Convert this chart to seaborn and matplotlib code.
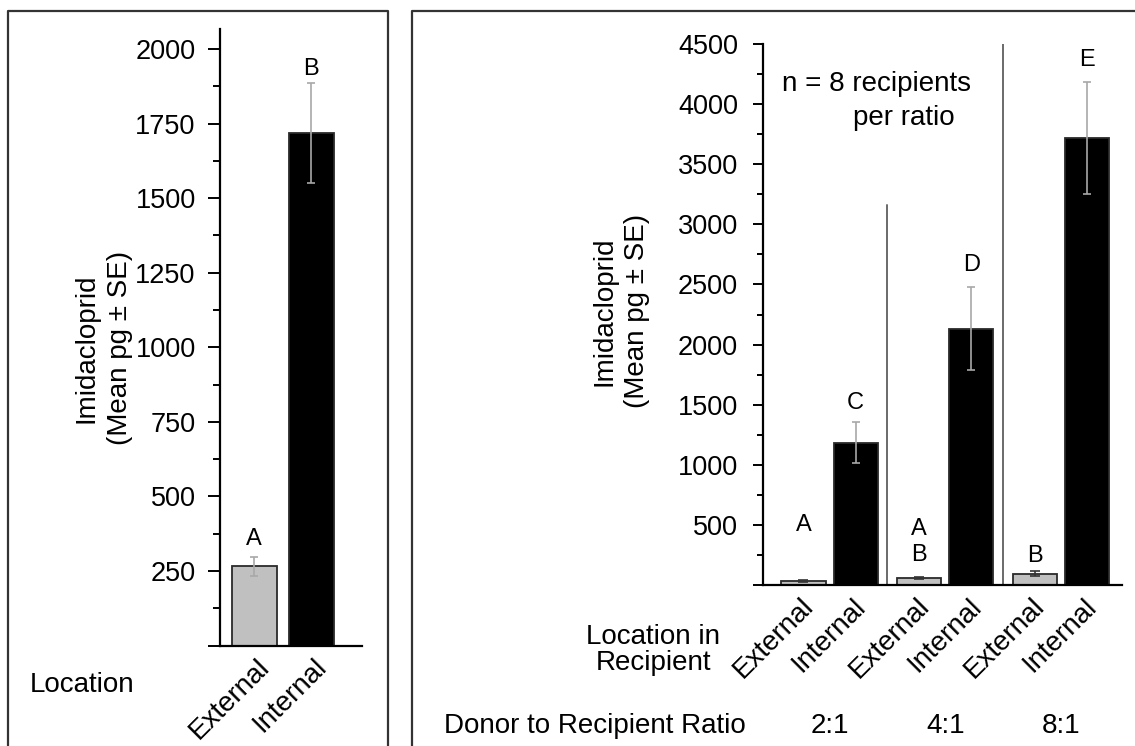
import numpy as np
import pandas as pd
import matplotlib
matplotlib.use("Agg")
import matplotlib.pyplot as plt
import matplotlib.transforms as mtransforms
from matplotlib.lines import Line2D
from matplotlib.ticker import MultipleLocator
import seaborn as sns

# Overall imidacloprid by location (left panel)
locations = ["External", "Internal"]
overall_mean = [266, 1717]
overall_se = [32, 168]
overall_letters = ["A", "B"]

# Imidacloprid by donor-to-recipient ratio (right panel)
ratios = ["2:1", "4:1", "8:1"]
external_mean = [37, 60, 95]
external_se = [8, 10, 20]
internal_mean = [1185, 2130, 3718]
internal_se = [170, 345, 466]
external_letters = ["A", "A\nB", "B"]
internal_letters = ["C", "D", "E"]

sns.set_theme(style="ticks")
plt.rcParams["font.family"] = ["Liberation Sans", "DejaVu Sans"]
plt.rcParams.update({
    "text.color": "black",
    "axes.labelcolor": "black",
    "xtick.color": "black",
    "ytick.color": "black",
    "axes.edgecolor": "black",
})

W, H = 1135, 746
fig = plt.figure(figsize=(W / 100, H / 100), dpi=100)


def fx(px):
    return px / W


def fy(py):
    return 1 - py / H


ax1 = fig.add_axes([fx(220), fy(645.5), fx(362) - fx(220), fy(29) - fy(645.5)])
ax2 = fig.add_axes([fx(763), fy(585), fx(1122) - fx(763), fy(44) - fy(585)])

palette = {"External": "#c0c0c0", "Internal": "#000000"}
TICK_FS = 19.5
LABEL_FS = 20
LETTER_FS = 17

# ---- left panel -------------------------------------------------------
df1 = pd.DataFrame({"Location": locations, "Imidacloprid": overall_mean})
sns.barplot(data=df1, x="Location", y="Imidacloprid", hue="Location",
            order=locations, hue_order=locations, palette=palette,
            width=0.79, errorbar=None, legend=False, ax=ax1,
            edgecolor="#2a2a2a", linewidth=1.3, saturation=1)

centers1 = sorted(p.get_x() + p.get_width() / 2 for p in ax1.patches)
ax1.errorbar(centers1, overall_mean, yerr=overall_se, fmt="none",
             ecolor="#a8a8a8", elinewidth=1.2, capsize=3, capthick=1.2, zorder=4)

for cx, m, s, lab, off in zip(centers1, overall_mean, overall_se,
                              overall_letters, [13, 10]):
    ax1.annotate(lab, (cx, m + s), xytext=(0, off), textcoords="offset points",
                 ha="center", va="center", fontsize=LETTER_FS)

ax1.set_xlim(-0.6, 1.89)
ax1.set_ylim(0, 2067)
ticks1 = np.arange(0, 2001, 250)
ax1.set_yticks(ticks1)
ax1.set_yticklabels([""] + [str(t) for t in ticks1[1:]])
ax1.yaxis.set_minor_locator(MultipleLocator(125))
ax1.tick_params(axis="y", which="major", length=8.5, width=1.4, labelsize=TICK_FS, pad=9)
ax1.tick_params(axis="y", which="minor", length=5, width=1.4)
ax1.set_xticks(centers1)
ax1.set_xticklabels(locations)
ax1.tick_params(axis="x", length=0, labelsize=LABEL_FS, pad=6)
off1 = mtransforms.ScaledTranslation(2 / 100, 0, fig.dpi_scale_trans)
for t in ax1.get_xticklabels():
    t.set_rotation(45)
    t.set_ha("right")
    t.set_va("top")
    t.set_rotation_mode("anchor")
    t.set_transform(t.get_transform() + off1)
ax1.set_xlabel("")
ax1.set_ylabel("")
sns.despine(ax=ax1)
for sp in ("left", "bottom"):
    ax1.spines[sp].set_linewidth(1.6)

fig.text(fx(103.5), fy(348), "Imidacloprid\n(Mean pg ± SE)", rotation=90,
         ha="center", va="center", multialignment="center", fontsize=LABEL_FS,
         linespacing=1.35)
fig.text(fx(82), fy(685), "Location", ha="center", va="center", fontsize=LABEL_FS)

# ---- right panel ------------------------------------------------------
df2 = pd.DataFrame({
    "Ratio": ratios * 2,
    "Location": ["External"] * len(ratios) + ["Internal"] * len(ratios),
    "Imidacloprid": external_mean + internal_mean,
})
sns.barplot(data=df2, x="Ratio", y="Imidacloprid", hue="Location",
            order=ratios, hue_order=locations, palette=palette,
            width=0.9, gap=0.154, dodge=True, errorbar=None, legend=False,
            ax=ax2, edgecolor="#2a2a2a", linewidth=1.3, saturation=1)

ext_x = [b.get_x() + b.get_width() / 2 for b in ax2.containers[0]]
int_x = [b.get_x() + b.get_width() / 2 for b in ax2.containers[1]]

ax2.errorbar(ext_x, external_mean, yerr=external_se, fmt="none",
             ecolor="#333333", elinewidth=1.2, capsize=3.5, capthick=1.2, zorder=4)
ax2.errorbar(int_x, internal_mean, yerr=internal_se, fmt="none",
             ecolor="#a8a8a8", elinewidth=1.2, capsize=3, capthick=1.2, zorder=4)

for cx, m, s, lab, off in zip(ext_x, external_mean, external_se,
                              external_letters, [39, 25, 11]):
    ax2.annotate(lab, (cx, m + s), xytext=(0, off), textcoords="offset points",
                 ha="center", va="center", fontsize=LETTER_FS, linespacing=1.25)
for cx, m, s, lab, off in zip(int_x, internal_mean, internal_se,
                              internal_letters, [14, 16, 16]):
    ax2.annotate(lab, (cx, m + s), xytext=(0, off), textcoords="offset points",
                 ha="center", va="center", fontsize=LETTER_FS)

# group separators
ax2.plot([0.5, 0.5], [0, 3160], color="#6a6a6a", lw=1.4, zorder=1)
ax2.plot([1.5, 1.5], [0, 4500], color="#6a6a6a", lw=1.4, zorder=1)

note_tr = mtransforms.blended_transform_factory(ax2.transAxes, ax2.transData)
ax2.text(0.053, 4168, "n = 8 recipients", ha="left", va="center",
         fontsize=LABEL_FS, transform=note_tr)
ax2.text(0.251, 3885, "per ratio", ha="left", va="center",
         fontsize=LABEL_FS, transform=note_tr)

ax2.set_xlim(-0.575, 2.528)
ax2.set_ylim(0, 4500)
ticks2 = np.arange(0, 4501, 500)
ax2.set_yticks(ticks2)
ax2.set_yticklabels([""] + [str(t) for t in ticks2[1:]])
ax2.yaxis.set_minor_locator(MultipleLocator(250))
ax2.tick_params(axis="y", which="major", length=7, width=1.4, labelsize=TICK_FS, pad=11)
ax2.tick_params(axis="y", which="minor", length=4, width=1.4)

xt = []
xl = []
for e, i in zip(ext_x, int_x):
    xt += [e, i]
    xl += locations
ax2.set_xticks(xt)
ax2.set_xticklabels(xl)
ax2.tick_params(axis="x", length=0, labelsize=LABEL_FS, pad=6)
off2 = mtransforms.ScaledTranslation(-3 / 100, 0, fig.dpi_scale_trans)
for t in ax2.get_xticklabels():
    t.set_rotation(45)
    t.set_ha("right")
    t.set_va("top")
    t.set_rotation_mode("anchor")
    t.set_transform(t.get_transform() + off2)
ax2.set_xlabel("")
ax2.set_ylabel("")
sns.despine(ax=ax2)
for sp in ("left", "bottom"):
    ax2.spines[sp].set_linewidth(1.6)

ratio_tr = mtransforms.blended_transform_factory(ax2.transData, fig.transFigure)
for k, r in enumerate(ratios):
    ax2.text(k, fy(726), r, transform=ratio_tr, ha="center", va="center",
             fontsize=LABEL_FS)

fig.text(fx(621), fy(311), "Imidacloprid\n(Mean pg ± SE)", rotation=90,
         ha="center", va="center", multialignment="center", fontsize=LABEL_FS,
         linespacing=1.35)
fig.text(fx(653), fy(650), "Location in\nRecipient", ha="center", va="center",
         multialignment="center", fontsize=LABEL_FS, linespacing=1.05)
fig.text(fx(746), fy(726), "Donor to Recipient Ratio", ha="right", va="center",
         fontsize=LABEL_FS)

# ---- panel frames -----------------------------------------------------
frame_kw = dict(color="#333333", lw=1.6, transform=fig.transFigure)
fig.add_artist(Line2D([fx(8), fx(8), fx(388), fx(388)],
                      [-0.01, fy(11), fy(11), -0.01], **frame_kw))
fig.add_artist(Line2D([fx(412), fx(412), 1.01],
                      [-0.01, fy(11), fy(11)], **frame_kw))

fig.savefig("out.png", dpi=100, facecolor="white")
